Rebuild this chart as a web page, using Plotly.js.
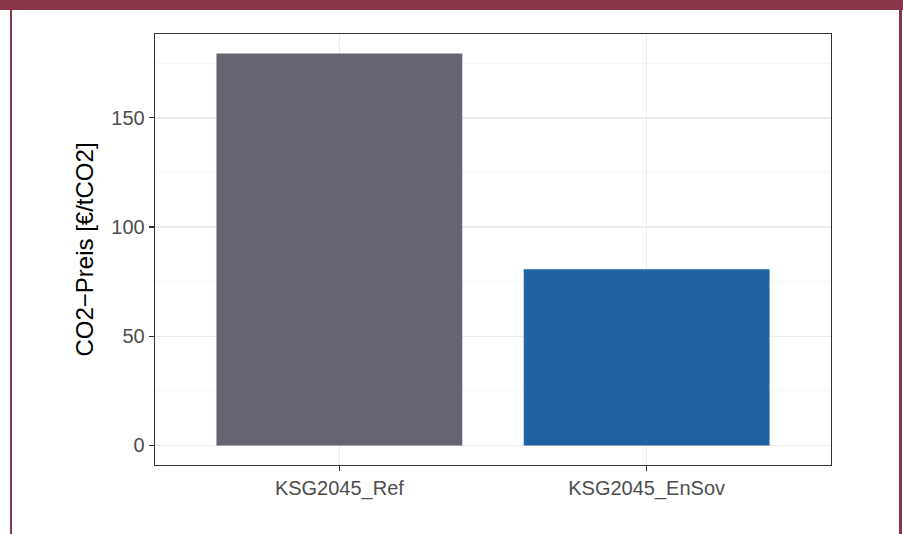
<!DOCTYPE html>
<html>
<head>
<meta charset="utf-8">
<script src="https://cdn.plot.ly/plotly-3.0.1.min.js"></script>
<style>
html,body{margin:0;padding:0;background:#fff;}
#wrap{position:relative;width:903px;height:534px;overflow:hidden;}
#chart{position:absolute;left:0;top:0;width:903px;height:534px;}
.bd{position:absolute;background:#8B354A;}
</style>
</head>
<body>
<div id="wrap">
<div id="chart"></div>
<div class="bd" style="left:0;top:0;width:903px;height:10px;"></div>
<div class="bd" style="left:10px;top:0;width:2px;height:534px;"></div>
<div class="bd" style="left:899px;top:0;width:3px;height:534px;"></div>
</div>
<script>
const categories = ["KSG2045_Ref", "KSG2045_EnSov"];
const values = [179.4, 80.7];
const barColors = ["#666473", "#2162A3"];
const yTicks = [0, 50, 100, 150];
const yTitle = "CO2\u2212Preis [\u20ac/tCO2]";

const maxV = Math.max(...values);
const pad = maxV * 0.05;

const trace = {
  type: "bar",
  x: categories,
  y: values,
  width: 0.8,
  marker: {color: barColors, line: {width: 0}},
  hoverinfo: "skip"
};

const layout = {
  width: 903, height: 534,
  margin: {l: 155, r: 72, t: 34, b: 69},
  paper_bgcolor: "#ffffff",
  plot_bgcolor: "#ffffff",
  showlegend: false,
  font: {family: "Liberation Sans, Arial, sans-serif", color: "#4D4D4D", size: 20},
  xaxis: {
    type: "category",
    range: [-0.6, 1.6],
    showgrid: true, gridcolor: "#EBEBEB", gridwidth: 1.4,
    showline: true, linecolor: "#333333", linewidth: 1.3, mirror: true,
    ticks: "outside", ticklen: 5, tickcolor: "#333333", tickwidth: 1.3,
    tickfont: {size: 20, color: "#4D4D4D"},
    zeroline: false
  },
  yaxis: {
    range: [-pad, maxV + pad],
    tickvals: yTicks,
    ticktext: yTicks.map(String),
    showgrid: true, gridcolor: "#EBEBEB", gridwidth: 1.4,
    minor: {dtick: 25, tick0: 0, showgrid: true, gridcolor: "#F2F2F2", gridwidth: 0.7, ticks: ""},
    showline: true, linecolor: "#333333", linewidth: 1.3, mirror: true,
    ticks: "outside", ticklen: 5, tickcolor: "#333333", tickwidth: 1.3,
    tickfont: {size: 20, color: "#4D4D4D"},
    zeroline: false,
    title: {text: yTitle, font: {size: 24, color: "#000000"}, standoff: 11}
  }
};

Plotly.newPlot("chart", [trace], layout, {displayModeBar: false, staticPlot: true});
</script>
</body>
</html>
